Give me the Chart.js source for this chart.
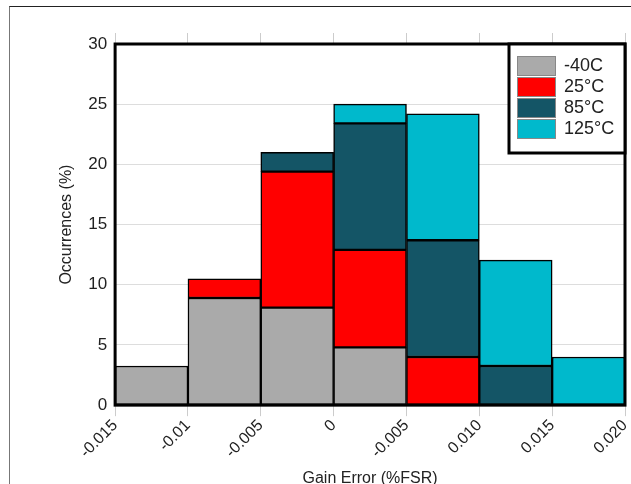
<!DOCTYPE html>
<html>
<head>
<meta charset="utf-8">
<script src="https://cdn.jsdelivr.net/npm/chart.js@4"></script>
<style>
  html, body { margin: 0; padding: 0; background: #fff; }
  #frame {
    position: absolute; left: 9px; top: 6px; width: 622px; height: 478px;
    border-top: 1px solid #222; border-left: 1px solid #777;
  }
  #wrap { position: absolute; left: 0; top: 0; width: 631px; height: 484px; }
</style>
</head>
<body>
<div id="frame"></div>
<div id="wrap"><canvas id="chart"></canvas></div>
<script>
// bin edges and their printed labels (the source plot has a typo at 0.005)
const binEdges = [-0.015, -0.01, -0.005, 0, 0.005, 0.010, 0.015, 0.020];
const edgeLabels = ['-0.015', '-0.01', '-0.005', '0', '-0.005', '0.010', '0.015', '0.020'];

// occurrences (%) per bin, stacked
const tempLabels = ['-40C', '25°C', '85°C', '125°C'];
const minus40 = [3.25, 8.9, 8.1, 4.8, null, null, null];
const t25 = [null, 1.6, 11.3, 8.1, 4.0, null, null];
const t85 = [null, null, 1.6, 10.5, 9.7, 3.25, null];
const t125 = [null, null, null, 1.6, 10.5, 8.8, 4.0];

const yTicks = [0, 5, 10, 15, 20, 25, 30];

const colors = ['#aaaaaa', '#ff0000', '#145566', '#00b9cc'];
const FONT = '"Liberation Sans", Arial, sans-serif';

const centers = binEdges.slice(0, -1).map((e, i) => (e + binEdges[i + 1]) / 2);
const toPoints = arr => arr.map((v, i) => ({ x: centers[i], y: v }));

const seriesList = [minus40, t25, t85, t125];

// border round the plot area plus the boxed legend in the top right
const framePlugin = {
    id: 'framePlugin',
    afterDraw(chart) {
        const { ctx, chartArea: a } = chart;
        ctx.save();
        ctx.strokeStyle = '#000';
        ctx.lineWidth = 3;
        ctx.strokeRect(a.left, a.top, a.right - a.left, a.bottom - a.top);

        // legend
        const bw = 116, bh = 109;
        const bx = a.right - bw, by = a.top;
        ctx.fillStyle = '#fff';
        ctx.fillRect(bx, by, bw, bh);
        ctx.strokeRect(bx, by, bw, bh);
        ctx.font = '18px ' + FONT;
        ctx.textBaseline = 'middle';
        chart.data.datasets.forEach((ds, i) => {
            const sy = by + 12 + i * 21;
            ctx.fillStyle = ds.backgroundColor;
            ctx.fillRect(bx + 8, sy, 39, 20);
            ctx.lineWidth = 1;
            ctx.strokeStyle = '#888';
            ctx.strokeRect(bx + 8.5, sy + 0.5, 38, 19);
            ctx.fillStyle = '#222';
            ctx.fillText(ds.label, bx + 55, sy + 10.5);
        });
        ctx.restore();
    }
};

const edgeTicks = axis => { axis.ticks = binEdges.map(v => ({ value: v })); };
const noSidePad = axis => { axis.paddingRight = 0; };

const ctx = document.getElementById('chart').getContext('2d');
new Chart(ctx, {
    type: 'bar',
    data: {
        datasets: seriesList.map((arr, i) => ({
            label: tempLabels[i],
            data: toPoints(arr),
            backgroundColor: colors[i],
            borderColor: '#000',
            borderWidth: 1.5,
            borderSkipped: false,
            barPercentage: 1,
            categoryPercentage: 1,
            xAxisID: 'x'
        }))
    },
    options: {
        responsive: true,
        maintainAspectRatio: false,
        animation: false,
        layout: { padding: { top: 33, right: 6, left: 57, bottom: -4 } },
        plugins: {
            legend: { display: false },
            tooltip: { enabled: false }
        },
        scales: {
            x: {
                type: 'linear',
                stacked: true,
                offset: false,
                min: binEdges[0],
                max: binEdges[binEdges.length - 1],
                afterBuildTicks: edgeTicks,
                afterFit: noSidePad,
                grid: { offset: false, drawOnChartArea: false, tickLength: 11, color: '#cccccc' },
                border: { display: false },
                ticks: {
                    autoSkip: false,
                    minRotation: 45,
                    maxRotation: 45,
                    padding: 0,
                    color: '#222',
                    font: { family: FONT, size: 16 },
                    callback: (v, i) => edgeLabels[i]
                },
                title: {
                    display: true,
                    text: 'Gain Error (%FSR)',
                    color: '#222',
                    font: { family: FONT, size: 16 },
                    padding: { top: 7, bottom: 0 }
                }
            },
            xTop: {
                type: 'linear',
                position: 'top',
                offset: false,
                min: binEdges[0],
                max: binEdges[binEdges.length - 1],
                afterBuildTicks: edgeTicks,
                afterFit: noSidePad,
                grid: { offset: false, drawOnChartArea: false, tickLength: 11, color: '#cccccc' },
                border: { display: false },
                ticks: { display: false }
            },
            y: {
                stacked: true,
                min: 0,
                max: 30,
                afterBuildTicks: axis => { axis.ticks = yTicks.map(v => ({ value: v })); },
                grid: { color: '#dddddd', drawTicks: false },
                border: { display: false },
                ticks: {
                    padding: 8,
                    color: '#222',
                    font: { family: FONT, size: 17 }
                },
                title: {
                    display: true,
                    text: 'Occurrences (%)',
                    color: '#222',
                    font: { family: FONT, size: 16 },
                    padding: { top: 0, bottom: 4 }
                }
            }
        }
    },
    plugins: [framePlugin]
});
</script>
</body>
</html>
